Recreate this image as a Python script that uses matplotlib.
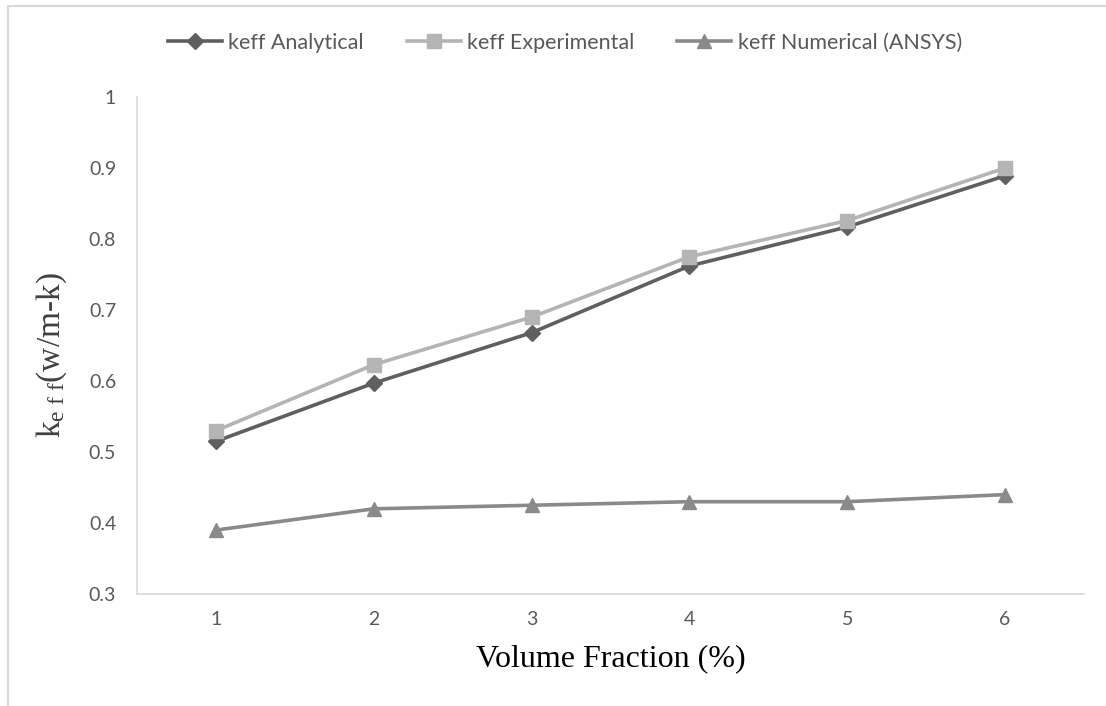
#!/usr/bin/env python3
""" Effective thermal conductivity vs volume fraction.
"""

import matplotlib.pyplot as plt
from matplotlib.patches import Rectangle

volume_fraction = [1, 2, 3, 4, 5, 6]
keff_analytical = [0.515, 0.597, 0.668, 0.762, 0.817, 0.889]
keff_experimental = [0.530, 0.623, 0.690, 0.775, 0.826, 0.900]
keff_numerical = [0.390, 0.420, 0.425, 0.430, 0.430, 0.440]
y_ticks = [0.3, 0.4, 0.5, 0.6, 0.7, 0.8, 0.9, 1.0]
y_tick_labels = ['0.3', '0.4', '0.5', '0.6', '0.7', '0.8', '0.9', '1']

plt.rcParams['mathtext.fontset'] = 'custom'
plt.rcParams['mathtext.rm'] = 'Liberation Serif'
plt.rcParams['mathtext.it'] = 'Liberation Serif'

tick_font = ['Lato', 'DejaVu Sans']

fig = plt.figure(figsize=(11.06, 7.06), dpi=100)
fig.patches.append(Rectangle((8 / 1106, -0.1), 1.2, 1.1 - 6 / 706,
                             transform=fig.transFigure, fill=False,
                             edgecolor='#d9d9d9', linewidth=1.5))
ax = fig.add_axes([137 / 1106, 112 / 706, 947 / 1106, 497 / 706])

ax.plot(volume_fraction, keff_analytical, color='#5f5f5f', lw=2.6,
        marker='D', ms=8, label='keff Analytical')
ax.plot(volume_fraction, keff_experimental, color='#b4b4b4', lw=2.6,
        marker='s', ms=10, label='keff Experimental')
ax.plot(volume_fraction, keff_numerical, color='#8a8a8a', lw=2.6,
        marker='^', ms=10, label='keff Numerical (ANSYS)')

ax.set_xlim(0.5, 6.5)
ax.set_ylim(0.3, 1.0)
ax.set_xticks(volume_fraction)
ax.set_yticks(y_ticks)
ax.set_yticklabels(y_tick_labels)
ax.tick_params(length=0, labelsize=14, labelcolor='#595959')
ax.tick_params(axis='y', pad=15)
ax.tick_params(axis='x', pad=12)
for lab in ax.get_xticklabels() + ax.get_yticklabels():
    lab.set_family(tick_font)
for side in ['top', 'right']:
    ax.spines[side].set_visible(False)
for side in ['left', 'bottom']:
    ax.spines[side].set_color('#d9d9d9')
    ax.spines[side].set_linewidth(1.2)

ax.set_xlabel('Volume Fraction (%)', family='Liberation Serif', fontsize=23,
              color='black')
ax.xaxis.set_label_coords(0.5, -0.101)
ax.set_ylabel(r'k$_{\mathrm{e\ f\ f}}$(w/m-k)', family='Liberation Serif',
              fontsize=24, color='#404040')
ax.yaxis.set_label_coords(-0.072, 0.48)

leg = fig.legend(loc='center', bbox_to_anchor=(565 / 1106, 1 - 43 / 706),
                 ncol=3, frameon=False, handlelength=2.5, columnspacing=2.0,
                 handletextpad=0.3, prop={'family': tick_font, 'size': 15.5})
for t in leg.get_texts():
    t.set_color('#595959')

fig.savefig('out.png', dpi=100)
